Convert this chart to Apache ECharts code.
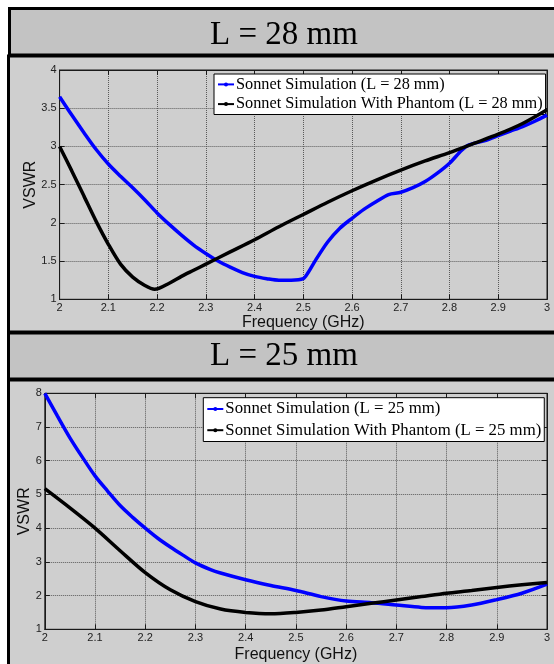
<!DOCTYPE html>
<html>
<head>
<meta charset="utf-8">
<script src="https://cdn.jsdelivr.net/npm/echarts@6/dist/echarts.min.js"></script>
<style>
  html, body { margin: 0; padding: 0; background: #ffffff; }
  #chart { width: 554px; height: 664px; }
</style>
</head>
<body>
<div id="chart"></div>
<script>
// VSWR versus frequency, two antenna lengths, with and without a phantom

// L = 28 mm, free space
const freq28Free = [2.00, 2.025, 2.05, 2.075, 2.10, 2.125, 2.15, 2.175, 2.20, 2.225, 2.25, 2.275, 2.30, 2.325, 2.35, 2.375, 2.40, 2.425, 2.45, 2.475, 2.50, 2.51, 2.525, 2.55, 2.575, 2.60, 2.625, 2.65, 2.675, 2.70, 2.725, 2.75, 2.775, 2.80, 2.825, 2.84, 2.875, 2.90, 2.925, 2.95, 2.975, 3.00];
const vswr28Free = [3.65, 3.41, 3.18, 2.96, 2.77, 2.61, 2.46, 2.30, 2.13, 1.98, 1.84, 1.71, 1.60, 1.50, 1.42, 1.35, 1.30, 1.27, 1.25, 1.25, 1.27, 1.35, 1.51, 1.75, 1.93, 2.06, 2.18, 2.28, 2.37, 2.40, 2.46, 2.54, 2.65, 2.78, 2.95, 3.02, 3.08, 3.14, 3.20, 3.26, 3.33, 3.41];

// L = 28 mm, with phantom
const freq28Phantom = [2.00, 2.025, 2.05, 2.075, 2.10, 2.125, 2.15, 2.175, 2.195, 2.225, 2.25, 2.275, 2.30, 2.35, 2.40, 2.45, 2.50, 2.55, 2.60, 2.65, 2.70, 2.75, 2.80, 2.85, 2.90, 2.95, 3.00];
const vswr28Phantom = [3.00, 2.68, 2.35, 2.02, 1.72, 1.46, 1.29, 1.18, 1.13, 1.21, 1.30, 1.38, 1.46, 1.62, 1.78, 1.95, 2.11, 2.27, 2.42, 2.56, 2.69, 2.81, 2.92, 3.04, 3.16, 3.30, 3.48];

// L = 25 mm, free space
const freq25Free = [2.00, 2.025, 2.05, 2.075, 2.10, 2.125, 2.15, 2.175, 2.20, 2.225, 2.25, 2.275, 2.30, 2.33, 2.35, 2.40, 2.45, 2.50, 2.55, 2.60, 2.65, 2.70, 2.75, 2.80, 2.85, 2.90, 2.95, 3.00];
const vswr25Free = [8.00, 7.33, 6.68, 6.10, 5.55, 5.10, 4.67, 4.32, 4.00, 3.70, 3.44, 3.20, 2.97, 2.77, 2.67, 2.47, 2.30, 2.15, 1.97, 1.84, 1.79, 1.72, 1.65, 1.64, 1.72, 1.88, 2.07, 2.34];

// L = 25 mm, with phantom
const freq25Phantom = [2.00, 2.05, 2.10, 2.15, 2.20, 2.25, 2.30, 2.35, 2.40, 2.45, 2.50, 2.55, 2.60, 2.65, 2.70, 2.75, 2.80, 2.85, 2.90, 2.95, 3.00];
const vswr25Phantom = [5.17, 4.60, 4.00, 3.33, 2.68, 2.17, 1.82, 1.60, 1.50, 1.46, 1.50, 1.57, 1.67, 1.77, 1.87, 1.97, 2.07, 2.15, 2.24, 2.32, 2.39];

const panelTitles = ['L = 28 mm', 'L = 25 mm'];
const seriesNames = [
  ['Sonnet Simulation (L = 28 mm)', 'Sonnet Simulation With Phantom (L = 28 mm)'],
  ['Sonnet Simulation (L = 25 mm)', 'Sonnet Simulation With Phantom (L = 25 mm)']
];
const xAxisTitle = 'Frequency (GHz)';
const yAxisTitle = 'VSWR';

const pairs = (xs, ys) => xs.map((x, i) => [x, ys[i]]);

const SANS = "'Liberation Sans', Arial, sans-serif";
const SERIF = "'Liberation Serif', 'Times New Roman', serif";

const gridDefs = [
  { left: 59.6, top: 70, width: 487.4, height: 229.3 },
  { left: 44.8, top: 393.3, width: 502.2, height: 236 }
];
const yRanges = [
  { min: 1, max: 4, interval: 0.5 },
  { min: 1, max: 8, interval: 1 }
];

const AXIS_DARK = '#1a1a1a';
const GRID_DOT = { color: '#5a5a5a', width: 1, type: [1, 1] };

function mainXAxis(gi, nameGap) {
  return {
    type: 'value', gridIndex: gi, min: 2, max: 3, interval: 0.1,
    name: xAxisTitle, nameLocation: 'middle', nameGap: nameGap,
    nameTextStyle: { fontFamily: SANS, fontSize: 16, color: '#111' },
    axisLine: { show: true, lineStyle: { color: AXIS_DARK, width: 1 } },
    axisTick: { show: true, inside: true, length: 5, lineStyle: { color: AXIS_DARK } },
    axisLabel: { fontFamily: SANS, fontSize: 11, color: '#222', margin: 3 },
    splitLine: { show: true, lineStyle: GRID_DOT }
  };
}
function topXAxis(gi) {
  return {
    type: 'value', gridIndex: gi, min: 2, max: 3, interval: 0.1, position: 'top',
    axisLine: { show: true, lineStyle: { color: AXIS_DARK, width: 1 } },
    axisTick: { show: true, inside: true, length: 5, lineStyle: { color: AXIS_DARK } },
    axisLabel: { show: false }, splitLine: { show: false }
  };
}
function mainYAxis(gi, nameGap) {
  const r = yRanges[gi];
  return {
    type: 'value', gridIndex: gi, min: r.min, max: r.max, interval: r.interval,
    name: yAxisTitle, nameLocation: 'middle', nameGap: nameGap, nameRotate: 90,
    nameMoveOverlap: false,
    nameTextStyle: { fontFamily: SANS, fontSize: 16, color: '#111' },
    axisLine: { show: true, lineStyle: { color: AXIS_DARK, width: 1 } },
    axisTick: { show: true, inside: true, length: 5, lineStyle: { color: AXIS_DARK } },
    axisLabel: { fontFamily: SANS, fontSize: 11, color: '#222', margin: 3 },
    splitLine: { show: true, lineStyle: GRID_DOT }
  };
}
function rightYAxis(gi) {
  const r = yRanges[gi];
  return {
    type: 'value', gridIndex: gi, min: r.min, max: r.max, interval: r.interval, position: 'right',
    axisLine: { show: true, lineStyle: { color: AXIS_DARK, width: 1 } },
    axisTick: { show: true, inside: true, length: 5, lineStyle: { color: AXIS_DARK } },
    axisLabel: { show: false }, splitLine: { show: false }
  };
}

function curve(name, gi, data, color) {
  return {
    type: 'line', name: name, xAxisIndex: gi * 2, yAxisIndex: gi * 2,
    data: data, smooth: 0.3, symbol: 'circle', symbolSize: 4, showSymbol: false,
    lineStyle: { color: color, width: 3.5 }, itemStyle: { color: color },
    emphasis: { disabled: true }, animation: false, z: 5
  };
}

// Boxed legend: short line with a small dot, serif text
function legendFor(gi, left, top, fontSize, gap, pad) {
  return {
    data: seriesNames[gi], orient: 'vertical', left: left, top: top,
    backgroundColor: '#ffffff', borderColor: '#000000', borderWidth: 1, borderRadius: 0,
    padding: [pad, 3, pad, 3], itemWidth: 16, itemHeight: 5, itemGap: gap,
    lineStyle: { width: 2 },
    textStyle: { fontFamily: SERIF, fontSize: fontSize, color: '#000', padding: [0, 0, 0, -3] },
    selectedMode: false
  };
}

// Panel frames and title boxes
const frames = [
  { type: 'rect', z: -100, shape: { x: 9.5, y: 8.5, width: 570, height: 46.5 }, style: { fill: '#c3c3c3', stroke: '#000', lineWidth: 3 } },
  { type: 'rect', z: -100, shape: { x: 8.5, y: 56, width: 570, height: 276 }, style: { fill: '#cfcfcf', stroke: '#000', lineWidth: 3 } },
  { type: 'rect', z: -100, shape: { x: 8.5, y: 333, width: 570, height: 46 }, style: { fill: '#c3c3c3', stroke: '#000', lineWidth: 3 } },
  { type: 'rect', z: -100, shape: { x: 8.5, y: 380, width: 570, height: 300 }, style: { fill: '#cfcfcf', stroke: '#000', lineWidth: 3 } },
  { type: 'text', z: -50, x: 284, y: 35, style: { text: panelTitles[0], font: '33px ' + SERIF, fill: '#000', textAlign: 'center', textVerticalAlign: 'middle' } },
  { type: 'text', z: -50, x: 284, y: 356, style: { text: panelTitles[1], font: '33px ' + SERIF, fill: '#000', textAlign: 'center', textVerticalAlign: 'middle' } }
];

const chart = echarts.init(document.getElementById('chart'), null, { renderer: 'canvas', width: 554, height: 664 });
chart.setOption({
  animation: false,
  backgroundColor: '#ffffff',
  graphic: { elements: frames },
  grid: gridDefs.map(g => Object.assign({ show: true, backgroundColor: 'transparent', borderColor: AXIS_DARK, borderWidth: 1 }, g)),
  xAxis: [mainXAxis(0, 15), topXAxis(0), mainXAxis(1, 17), topXAxis(1)],
  yAxis: [mainYAxis(0, 21), rightYAxis(0), mainYAxis(1, 12), rightYAxis(1)],
  legend: [legendFor(0, 214, 74, 16.3, 3.7, 2.4), legendFor(1, 203.3, 397.7, 16.8, 4.2, 2.8)],
  series: [
    curve(seriesNames[0][0], 0, pairs(freq28Free, vswr28Free), '#0000ff'),
    curve(seriesNames[0][1], 0, pairs(freq28Phantom, vswr28Phantom), '#000000'),
    curve(seriesNames[1][0], 1, pairs(freq25Free, vswr25Free), '#0000ff'),
    curve(seriesNames[1][1], 1, pairs(freq25Phantom, vswr25Phantom), '#000000')
  ]
});
</script>
</body>
</html>
